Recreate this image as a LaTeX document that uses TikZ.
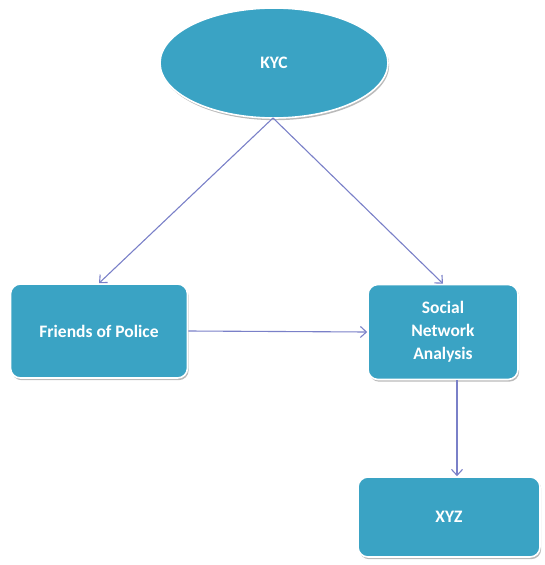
\documentclass[tikz,border=0pt]{standalone}
\usepackage{fontspec}
\setmainfont{Carlito}
\usetikzlibrary{shapes.geometric,shadows,arrows.meta}
\definecolor{boxfill}{HTML}{3AA3C4}
\definecolor{arrowc}{HTML}{7A80C8}
\tikzset{
  shapebase/.style={draw=white, line width=1.6pt, fill=boxfill, text=white,
    font=\fontsize{17.5}{23}\selectfont\bfseries, align=center,
    drop shadow={shadow xshift=1.2pt, shadow yshift=-2.2pt, opacity=0.45, fill=black!60}},
  roundbox/.style={shapebase, rectangle, rounded corners=10pt, inner sep=0pt},
  ovalnode/.style={shapebase, ellipse, inner sep=0pt},
  conn/.style={draw=arrowc, line width=1.1pt, -{Straight Barb[length=6pt,width=11pt]}}
}
\begin{document}
\begin{tikzpicture}[x=1pt,y=-1pt]
\useasboundingbox (0,0) rectangle (545,565);
\node[ovalnode, minimum width=228pt, minimum height=110pt] (kyc) at (274,63) {KYC};
\node[roundbox, minimum width=177pt, minimum height=94pt] (fop) at (99,331) {Friends of Police};
\node[roundbox, minimum width=150pt, minimum height=95pt] (sna) at (443,332) {Social\\Network\\Analysis};
\node[roundbox, minimum width=182pt, minimum height=80pt] (xyz) at (449,517) {XYZ};
\coordinate (kb) at (273,118);
\draw[conn] (kb) -- (fop.north);
\draw[conn] (kb) -- (sna.north);
\draw[conn] (fop.east) -- (sna.west);
\draw[conn] (sna.south -| 457,0) -- (xyz.north -| 457,0);
\end{tikzpicture}
\end{document}
